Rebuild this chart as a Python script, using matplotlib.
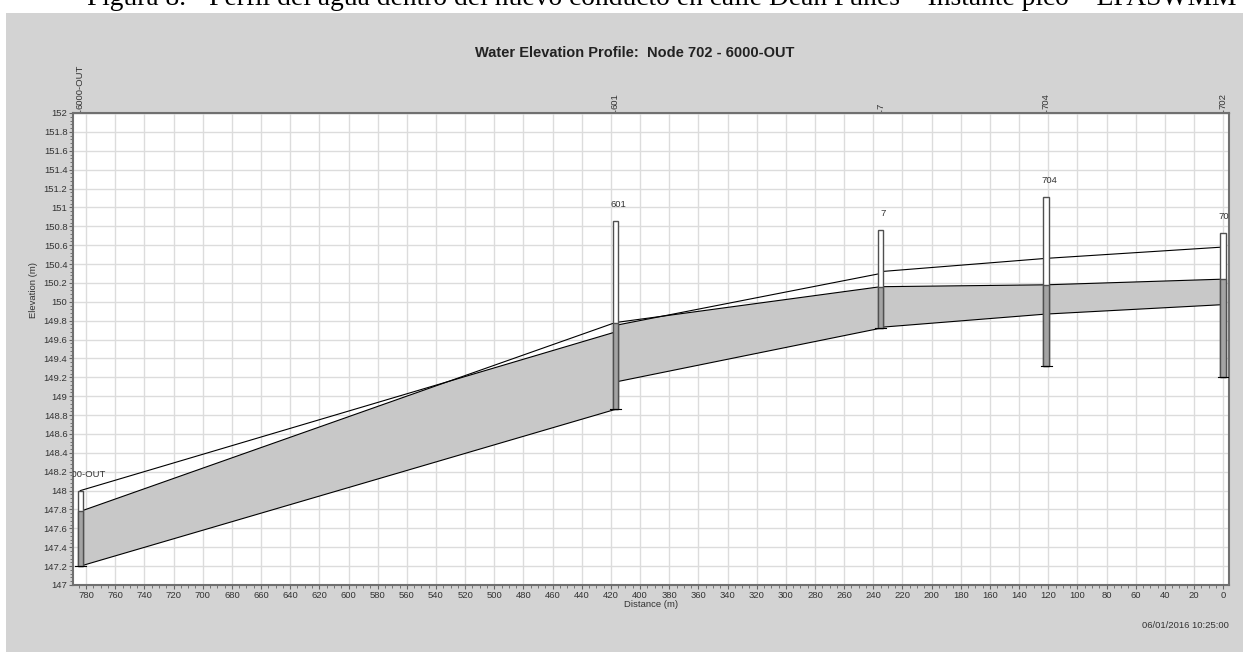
import matplotlib
matplotlib.use('Agg')
from matplotlib import pyplot as plt
from matplotlib.patches import Rectangle
from matplotlib.ticker import MultipleLocator, FormatStrFormatter
import matplotlib.transforms as mtransforms
import numpy as np

plt.rcParams['font.family'] = ['Liberation Sans', 'DejaVu Sans']

# nodes along the profile (distance from node 702)
nodes = ['6000-OUT', '601', '7', '704', '702']
node_dist = [784, 417, 235, 121.5, 0]
node_invert = [147.20, 148.86, 149.72, 149.32, 149.20]
node_rim = [148.00, 150.86, 150.76, 151.11, 150.73]
node_head = [147.78, 149.78, 150.16, 150.18, 150.24]

# conduits between consecutive nodes: invert and crown at each end
link_inv_a = [147.20, 149.15, 149.73, 149.87]
link_inv_b = [148.86, 149.72, 149.87, 149.97]
link_top_a = [148.00, 149.75, 150.32, 150.46]
link_top_b = [149.68, 150.30, 150.46, 150.58]

fig = plt.figure(figsize=(12.49, 6.57), dpi=100)
fig.patch.set_facecolor('white')

# panel gris detrás del gráfico
fig.patches.append(Rectangle((6 / 1249, 1 - 652 / 657), 1237 / 1249, 639 / 657,
                             transform=fig.transFigure, facecolor='#d3d3d3',
                             edgecolor='none', zorder=-10))

fig.text(662 / 1249, 1 - 5 / 657,
         'Figura 8. - Perfil del agua dentro del nuevo conducto en calle Dean Funes \u2013 Instante pico \u2013 EPASWMM',
         family='Liberation Serif', fontsize=19.8, ha='center', va='baseline', color='black')

ax = fig.add_axes([73 / 1249, 1 - 585 / 657, 1156 / 1249, 472 / 657])
ax.set_facecolor('white')
ax.set_xlim(789, -4)
ax.set_ylim(147, 152)

fill_col = '#c8c8c8'
for i in range(len(link_inv_a)):
    xa, xb = node_dist[i], node_dist[i + 1]
    xs = np.linspace(xa, xb, 300)
    bot = np.interp(xs, [xb, xa], [link_inv_b[i], link_inv_a[i]])
    top = np.interp(xs, [xb, xa], [link_top_b[i], link_top_a[i]])
    wat = np.interp(xs, [xb, xa], [node_head[i + 1], node_head[i]])
    ax.fill_between(xs, bot, np.minimum(wat, top), facecolor=fill_col,
                    edgecolor='none', zorder=2)
    ax.plot([xa, xb], [link_inv_a[i], link_inv_b[i]], color='black', lw=0.8, zorder=3)
    ax.plot([xa, xb], [link_top_a[i], link_top_b[i]], color='black', lw=0.8, zorder=3)
    ax.plot([xa, xb], [node_head[i], node_head[i + 1]], color='black', lw=0.8, zorder=3)

# etiquetas de nodo un poco corridas a la derecha
lbl_shift = mtransforms.offset_copy(ax.transData, fig=fig, x=3, y=0, units='dots')
bar_w = 3.8
for name, d, inv, rim, head in zip(nodes, node_dist, node_invert, node_rim, node_head):
    ax.add_patch(Rectangle((d - bar_w / 2, inv), bar_w, rim - inv, facecolor='white',
                           edgecolor='#505050', lw=1.0, zorder=4))
    ax.add_patch(Rectangle((d - bar_w / 2, inv), bar_w, head - inv, facecolor='#a4a4a4',
                           edgecolor='#505050', lw=1.0, zorder=4))
    ax.plot([d - bar_w, d + bar_w], [inv, inv], color='black', lw=0.8, zorder=5)
    ax.text(d, rim + 0.175, name, ha='center', va='center', fontsize=6.8,
            color='#333333', clip_on=True, zorder=6, transform=lbl_shift)

ax.xaxis.set_major_locator(MultipleLocator(20))
ax.xaxis.set_minor_locator(MultipleLocator(5))
ax.yaxis.set_major_locator(MultipleLocator(0.2))
ax.yaxis.set_minor_locator(MultipleLocator(0.04))
ax.yaxis.set_major_formatter(FormatStrFormatter('%g'))
ax.grid(True, which='major', color='#dcdcdc', lw=1.0, zorder=1)
ax.set_axisbelow(True)
ax.tick_params(which='both', direction='out', colors='#666666', labelcolor='#333333',
               labelsize=6.8, pad=1)
ax.tick_params(which='major', length=3)
ax.tick_params(which='minor', length=2)
for sp in ax.spines.values():
    sp.set_color('#707070')
    sp.set_linewidth(1.5)

top_ax = ax.secondary_xaxis('top')
top_ax.set_xticks(node_dist, labels=nodes)
top_ax.tick_params(length=2, colors='#666666', labelcolor='#333333', labelsize=6.8,
                   rotation=90, pad=1)
top_ax.xaxis.set_minor_locator(plt.NullLocator())

ax.set_xlabel('Distance (m)', fontsize=6.8, color='#333333', labelpad=0)
ax.set_ylabel('Elevation (m)', fontsize=6.8, color='#333333')
ax.yaxis.set_label_coords(-0.030, 0.625)

fig.text(635 / 1249, 1 - 53 / 657, 'Water Elevation Profile:  Node 702 - 6000-OUT',
         fontsize=10.5, fontweight='bold', ha='center', va='center', color='#222222')
fig.text(1229 / 1249, 1 - 626 / 657, '06/01/2016 10:25:00', fontsize=6.8,
         ha='right', va='center', color='#333333')

fig.savefig('out.png', dpi=100)
